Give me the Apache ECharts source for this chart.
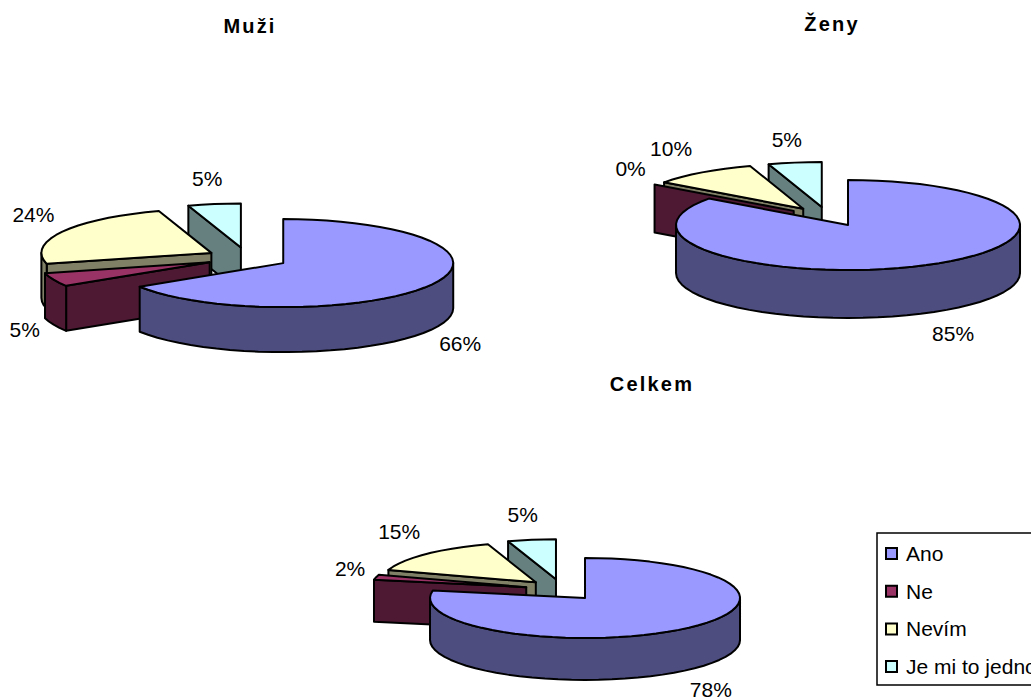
<!DOCTYPE html>
<html>
<head>
<meta charset="utf-8">
<title>Muži, Ženy, Celkem</title>
<script src="https://cdn.jsdelivr.net/npm/echarts@6/dist/echarts.min.js"></script>
<style>
  html, body { margin: 0; padding: 0; background: #fff; overflow: hidden; }
  #chart { width: 1031px; height: 698px; }
  /* Chart titles are set wide */
  #chart text[style*="bold"] { letter-spacing: 2.2px; }
</style>
</head>
<body>
<div id="chart"></div>
<script>
// Answers in percent, one list per group, in category order
const categories = ['Ano', 'Ne', 'Nevím', 'Je mi to jedno'];
const groupNames = ['Muži', 'Ženy', 'Celkem'];
const muzi = [66, 5, 24, 5];
const zeny = [85, 0, 10, 5];
const celkem = [78, 2, 15, 5];
const groupValues = [muzi, zeny, celkem];

// Top face and side wall colours for each category
const topColors = ['#9999FF', '#993366', '#FFFFCC', '#CCFFFF'];
const wallColors = ['#4D4D80', '#4D1933', '#808066', '#668080'];

// Ellipse geometry of each tilted pie
const pies = [
  { cx: 247.3, cy: 258, rx: 170, ry: 44, depth: 45, explode: 41, explodeTilt: 0.259,
    title: [250, 16], labels: [[28, 59], [-29, 50], [-29, -17], [-7, -26]] },
  { cx: 828.5, cy: 216.5, rx: 172, ry: 45, depth: 48, explode: 43, explodeTilt: 0.222,
    title: [832, 14], labels: [[27, 66.5], [-24, -14.5], [-31, -22.5], [-8, -21.5]] },
  { cx: 561.7, cy: 589.8, rx: 155, ry: 40, depth: 42, explode: 36.6, explodeTilt: 0.29,
    title: [652, 374], labels: [[27, 62], [-26, -9.5], [-27, -23.5], [-9, -26.5]] }
];

const OUTLINE = { stroke: '#000', lineWidth: 2, lineJoin: 'round' };

function renderSlice(params, api) {
  const pie = pies[api.value(0)];
  const value = api.value(1);
  const startPct = api.value(2);
  const catIdx = categories.length - 1 - params.seriesIndex;
  const k = pie.ry / pie.rx;
  const a0 = startPct * 3.6;
  const a1 = (startPct + value) * 3.6;
  const mid = (a0 + a1) / 2 * Math.PI / 180;

  // Slice apex, pushed outward along its bisector
  const ax = pie.cx + pie.explode * Math.sin(mid);
  const ay = pie.cy - pie.explode * pie.explodeTilt * Math.cos(mid);
  const rim = deg => {
    const t = deg * Math.PI / 180;
    return [ax + pie.rx * Math.sin(t), ay - pie.ry * Math.cos(t)];
  };
  const arc = (from, to) => {
    const pts = [];
    const n = Math.max(1, Math.ceil((to - from) / 5));
    for (let i = 0; i <= n; i++) pts.push(rim(from + (to - from) * i / n));
    return pts;
  };
  const down = p => [p[0], p[1] + pie.depth];
  const poly = (points, fill) => ({
    type: 'polygon', shape: { points }, style: Object.assign({ fill }, OUTLINE)
  });

  const children = [];
  const wall = wallColors[catIdx];

  // A cut face shows only when the slice interior lies behind its top edge
  const cutFace = (edgeDeg, insideDeg) => {
    const p = rim(edgeDeg);
    const q = rim(insideDeg);
    const ex = p[0] - ax, ey = p[1] - ay;
    if (Math.abs(ex) < 1e-6) return;
    if (q[1] - ay < ey / ex * (q[0] - ax)) {
      children.push(poly([[ax, ay], p, down(p), down([ax, ay])], wall));
    }
  };
  cutFace(a0, a0 + 1);
  cutFace(a1, a1 - 1);

  // Outer wall along the part of the rim that faces the viewer
  const w0 = Math.max(a0, 90), w1 = Math.min(a1, 270);
  if (w1 > w0) {
    const top = arc(w0, w1);
    children.push(poly(top.concat(top.map(down).reverse()), wall));
  }

  // Top face
  if (a1 > a0) {
    children.push(poly([[ax, ay]].concat(arc(a0, a1)), topColors[catIdx]));
  }

  // Percentage label, placed relative to the rim point on the bisector
  const off = pie.labels[catIdx];
  const r = pie.rx + pie.explode;
  children.push({
    type: 'text',
    style: {
      text: value + '%',
      x: pie.cx + r * Math.sin(mid) + off[0],
      y: pie.cy - r * k * Math.cos(mid) + off[1],
      fill: '#000',
      font: '21px "Liberation Sans", Arial, sans-serif',
      align: 'center',
      verticalAlign: 'middle'
    }
  });
  return { type: 'group', children };
}

function sliceRows(catIdx) {
  return groupValues.map((vals, g) => {
    const start = vals.slice(0, catIdx).reduce((s, v) => s + v, 0);
    return [g, vals[catIdx], start];
  });
}

// Back slices are painted first, so the series run from last category to first
const series = categories.map((_, i) => categories.length - 1 - i).map(catIdx => ({
  type: 'custom',
  name: categories[catIdx],
  coordinateSystem: 'none',
  renderItem: renderSlice,
  data: sliceRows(catIdx),
  silent: true,
  animation: false,
  itemStyle: { color: topColors[catIdx], borderColor: '#000', borderWidth: 1.5 }
}));

const chart = echarts.init(document.getElementById('chart'), null, { renderer: 'svg' });
chart.setOption({
  backgroundColor: '#fff',
  animation: false,
  title: groupNames.map((name, g) => ({
    text: name,
    left: pies[g].title[0],
    top: pies[g].title[1],
    textAlign: 'center',
    padding: 0,
    textStyle: {
      color: '#000',
      fontFamily: '"Liberation Sans", Arial, sans-serif',
      fontWeight: 'bold',
      fontSize: 20
    }
  })),
  legend: {
    data: categories,
    orient: 'vertical',
    left: 877,
    top: 533,
    align: 'left',
    selectedMode: false,
    icon: 'rect',
    itemWidth: 11,
    itemHeight: 11,
    itemGap: 16.7,
    padding: [10, 12, 8, 8],
    backgroundColor: '#fff',
    borderColor: '#000',
    borderWidth: 1.5,
    borderRadius: 0,
    textStyle: {
      color: '#000',
      fontFamily: '"Liberation Sans", Arial, sans-serif',
      fontSize: 21,
      padding: [0, 0, 0, 4]
    }
  },
  series
});
</script>
</body>
</html>
